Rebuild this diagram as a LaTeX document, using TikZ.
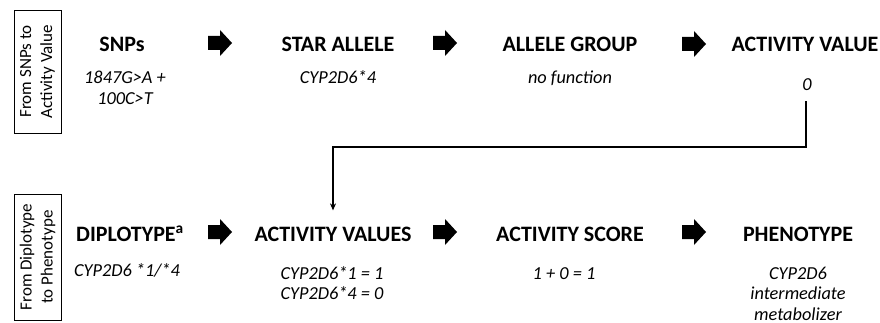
\documentclass[tikz,border=0pt]{standalone}
\usepackage{fontspec}
\setmainfont{Carlito}
\usetikzlibrary{arrows.meta}
\newcommand{\mlines}[1]{\begin{tabular}[t]{@{}c@{}}#1\end{tabular}}
\begin{document}
\begin{tikzpicture}[x=1pt,y=-1pt,
  title/.style={anchor=base,inner sep=0pt,font=\fontsize{22}{26}\selectfont\bfseries},
  sub/.style={anchor=base,inner sep=0pt,font=\fontsize{18.3}{20.5}\selectfont\itshape},
  sidebox/.style={draw,line width=0.9pt,rotate=90,align=center,inner sep=0pt,
     minimum height=47pt,font=\fontsize{17}{21}\selectfont},
  conn/.style={line width=1.5pt,-{Stealth[length=7pt,width=6pt]}},
  blk/.pic={\fill (-12,-7) -- (0,-7) -- (0,-13) -- (12,0) -- (0,13) -- (0,7) -- (-12,7) -- cycle;}
]
\useasboundingbox (0,0) rectangle (880,323);
% side boxes
\node[sidebox,minimum width=123pt] (s1) at (37.5,71.5) {From SNPs to\\Activity Value};
\node[sidebox,minimum width=126pt] (s2) at (37.5,257) {From Diplotype\\to Phenotype};
% row 1
\node[title] (t1) at (122,52) {SNPs};
\node[sub] (d1) at (125,84) {\mlines{1847G>A +\\100C>T}};
\node[title] (t2) at (338,52) {STAR ALLELE};
\node[sub] (d2) at (338,84) {CYP2D6*4};
\node[title] (t3) at (570,52) {ALLELE GROUP};
\node[sub] (d3) at (570,84) {no function};
\node[title] (t4) at (805,52) {ACTIVITY VALUE};
\node[sub] (d4) at (807,91) {0};
% row 2
\node[title] (u1) at (130,241) {DIPLOTYPE\textsuperscript{a}};
\node[sub] (e1) at (127,276) {CYP2D6 *1/*4};
\node[title] (u2) at (333,241) {ACTIVITY VALUES};
\node[sub] (e2) at (332,279) {\mlines{CYP2D6*1 = 1\\CYP2D6*4 = 0}};
\node[title] (u3) at (570,241) {ACTIVITY SCORE};
\node[sub] (e3) at (564,279) {1 + 0 = 1};
\node[title] (u4) at (798,241) {PHENOTYPE};
\node[sub] (e4) at (798,279) {\mlines{CYP2D6\\intermediate\\metabolizer}};
% block arrows
\pic at (220,43) {blk};
\pic at (445,43) {blk};
\pic at (694,44) {blk};
\pic at (220,232) {blk};
\pic at (445,232) {blk};
\pic at (694,232) {blk};
% connector
\coordinate (bend) at (806,147);
\draw[conn] ([xshift=-1pt,yshift=-10pt]d4.south) -- (bend) -| ([yshift=16pt]u2.north);
\end{tikzpicture}
\end{document}
